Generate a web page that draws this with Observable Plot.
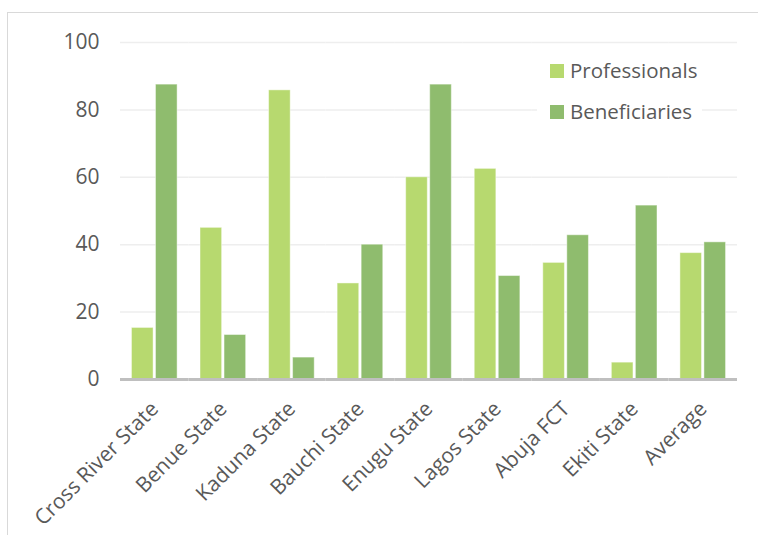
<!DOCTYPE html>
<html>
<head>
<meta charset="utf-8">
<script src="https://cdn.jsdelivr.net/npm/d3@7"></script>
<script src="https://cdn.jsdelivr.net/npm/@observablehq/plot@0.6"></script>
<style>
  html, body { margin: 0; padding: 0; background: #fff; }
  #wrap { position: relative; width: 759px; height: 535px; overflow: hidden; font-family: "Open Sans", sans-serif; }
  #frame { position: absolute; left: 7px; top: 12px; width: 751px; height: 600px;
           border-left: 1.5px solid #d9d9d9; border-top: 1.5px solid #d9d9d9; box-sizing: border-box; }
  #chart { position: absolute; left: 0; top: 0; }
  #legend { position: absolute; left: 537px; top: 50px; width: 165px; background: #fff;
            color: #595959; font-size: 20.5px; line-height: 41px; }
  #legend .item { display: flex; align-items: center; padding-left: 13px; }
  #legend .sw { width: 14px; height: 14px; margin-right: 6px; }
</style>
</head>
<body>
<div id="wrap">
  <div id="frame"></div>
  <div id="chart"></div>
  <div id="legend"></div>
</div>
<script>
// Share (%) of professionals and beneficiaries, by state
const states = ["Cross River State", "Benue State", "Kaduna State", "Bauchi State",
                "Enugu State", "Lagos State", "Abuja FCT", "Ekiti State", "Average"];
const seriesNames = ["Professionals", "Beneficiaries"];
const professionals = [15.3, 45.0, 85.8, 28.5, 60.0, 62.5, 34.6, 5.0, 37.5];
const beneficiaries = [87.5, 13.2, 6.5, 40.0, 87.5, 30.7, 42.8, 51.6, 40.7];
const yTicks = [0, 20, 40, 60, 80, 100];
const colors = ["#b7d96f", "#8fbc6e"];

const rows = states.flatMap((s, i) => [
  {state: s, series: seriesNames[0], value: professionals[i]},
  {state: s, series: seriesNames[1], value: beneficiaries[i]}
]);

const chart = Plot.plot({
  width: 759,
  height: 535,
  marginLeft: 120,
  marginRight: 22,
  marginTop: 42,
  marginBottom: 156,
  style: {fontFamily: "Open Sans, sans-serif", fontSize: "20px", color: "#595959", background: "transparent"},
  fx: {domain: states, paddingInner: 0, paddingOuter: 0, round: false, label: null},
  x: {domain: seriesNames, paddingInner: 0.1, paddingOuter: 0.477, round: false, axis: null},
  y: {domain: [0, 100], label: null},
  color: {domain: seriesNames, range: colors},
  marks: [
    Plot.ruleY(yTicks.filter(d => d > 0), {stroke: "#eeeeee", strokeWidth: 1.5}),
    Plot.barY(rows, {fx: "state", x: "series", y: "value", fill: "series",
                     stroke: "#ffffff", strokeOpacity: 0.45, strokeWidth: 1}),
    Plot.ruleY([0], {stroke: "#bfbfbf", strokeWidth: 3}),
    Plot.axisY({ticks: yTicks, tickSize: 0, tickPadding: 21, label: null, fontSize: 21, fill: "#595959"}),
    Plot.axisFx({anchor: "bottom", tickSize: 0, tickRotate: -45, tickPadding: 26, label: null, fontSize: 21, fill: "#595959"})
  ]
});
document.getElementById("chart").appendChild(chart);

// Legend boxed in white over the top-right of the plot area
const legend = document.getElementById("legend");
seriesNames.forEach((name, i) => {
  const item = document.createElement("div");
  item.className = "item";
  const sw = document.createElement("span");
  sw.className = "sw";
  sw.style.background = colors[i];
  item.appendChild(sw);
  item.appendChild(document.createTextNode(name));
  legend.appendChild(item);
});
</script>
</body>
</html>
